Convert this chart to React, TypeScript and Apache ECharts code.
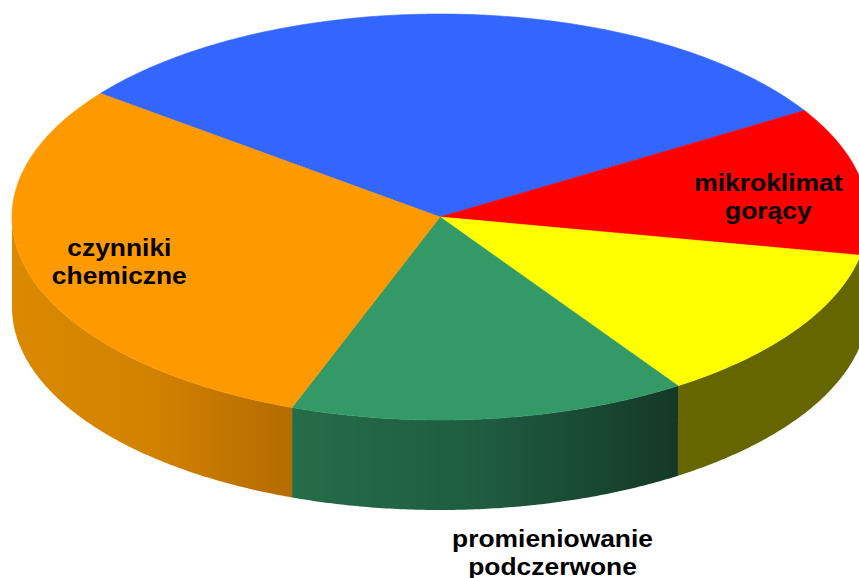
import * as echarts from "echarts";
import { useEffect, useRef } from "react";

// Slice names (blue and yellow labels lie outside the visible frame)
const categories = ["", "mikroklimat\ngorący", "", "promieniowanie\npodczerwone", "czynniki\nchemiczne"];
// Slice values (percent)
const values = [30.8, 11.8, 12.6, 15.0, 29.8];

const topColors = ["#3366FF", "#FF0000", "#FFFF00", "#339966", "#FF9900"];
const sideStops: [number, string][][] = [
  [[0, "#1F3D99"], [1, "#1F3D99"]],
  [[0, "#660000"], [1, "#660000"]],
  [[0, "#666600"], [1, "#666600"]],
  [[0, "#256C48"], [0.5, "#1E5C40"], [0.85, "#17432F"], [1, "#143827"]],
  [[0, "#DA8900"], [0.5, "#D38200"], [1, "#B36C00"]],
];
// label placement: radius fraction along the mid angle, plus nudges
const labelPlace: ({ r: number; dx: number; dy: number } | null)[] = [
  null,
  { r: 0.78, dx: 0, dy: 8 },
  null,
  { r: 1, dx: 62, dy: 134 },
  { r: 0.78, dx: 0, dy: 0 },
];

const START_ANGLE = 217.5;
const CX = 440;
const CY = 217;
const RX = 428;
const RY = 203;
const DEPTH = 90;

export default function App() {
  const ref = useRef<HTMLDivElement>(null);
  useEffect(() => {
    document.body.style.margin = "0";
    const chart = echarts.init(ref.current!, null, { renderer: "svg" });
    const total = values.reduce((a, b) => a + b, 0);
    const angles: [number, number][] = [];
    let acc = START_ANGLE;
    values.forEach((v) => {
      const span = (v / total) * 360;
      angles.push([acc, acc + span]);
      acc += span;
    });
    const pt = (t: number, dy = 0): number[] => {
      const r = (t * Math.PI) / 180;
      return [CX + RX * Math.cos(r), CY + RY * Math.sin(r) + dy];
    };
    const arc = (a0: number, a1: number, dy = 0) => {
      const n = Math.max(2, Math.ceil((a1 - a0) / 0.5));
      const pts: number[][] = [];
      for (let i = 0; i <= n; i++) pts.push(pt(a0 + ((a1 - a0) * i) / n, dy));
      return pts;
    };

    chart.setOption({
      animation: false,
      backgroundColor: "#ffffff",
      series: [
        {
          type: "custom",
          coordinateSystem: "none",
          silent: true,
          data: values,
          renderItem: (params: any) => {
            const i = params.dataIndex;
            const [a0, a1] = angles[i];
            const children: any[] = [];
            for (const w of [0, 360, 720]) {
              const b0 = Math.max(a0, w);
              const b1 = Math.min(a1, w + 180);
              if (b1 > b0) {
                const pts = [...arc(b0, b1), ...arc(b0, b1, DEPTH).reverse()];
                children.push({
                  type: "polygon",
                  z2: 0,
                  shape: { points: pts },
                  style: {
                    fill: new echarts.graphic.LinearGradient(
                      0, 0, 1, 0,
                      sideStops[i].map(([o, c]) => ({ offset: o, color: c }))
                    ),
                  },
                });
              }
            }
            children.push({
              type: "polygon",
              z2: 1,
              shape: { points: [[CX, CY], ...arc(a0, a1)] },
              style: { fill: topColors[i], stroke: topColors[i], lineWidth: 0.6 },
            });
            const lp = labelPlace[i];
            if (lp && categories[i]) {
              const mid = (a0 + a1) / 2;
              const r = (mid * Math.PI) / 180;
              const x = CX + lp.r * RX * Math.cos(r) + lp.dx;
              const y = CY + lp.r * RY * Math.sin(r) + lp.dy;
              children.push({
                type: "text",
                z2: 2,
                x,
                y,
                scaleX: 1.1,
                style: {
                  text: categories[i],
                  fill: "#000000",
                  fontFamily: "Liberation Sans",
                  fontWeight: "bold",
                  fontSize: 24,
                  lineHeight: 28,
                  align: "center",
                  verticalAlign: "middle",
                },
              });
            }
            return { type: "group", children };
          },
        },
      ],
    });
    return () => chart.dispose();
  }, []);
  return <div ref={ref} style={{ width: 859, height: 578 }} />;
}
